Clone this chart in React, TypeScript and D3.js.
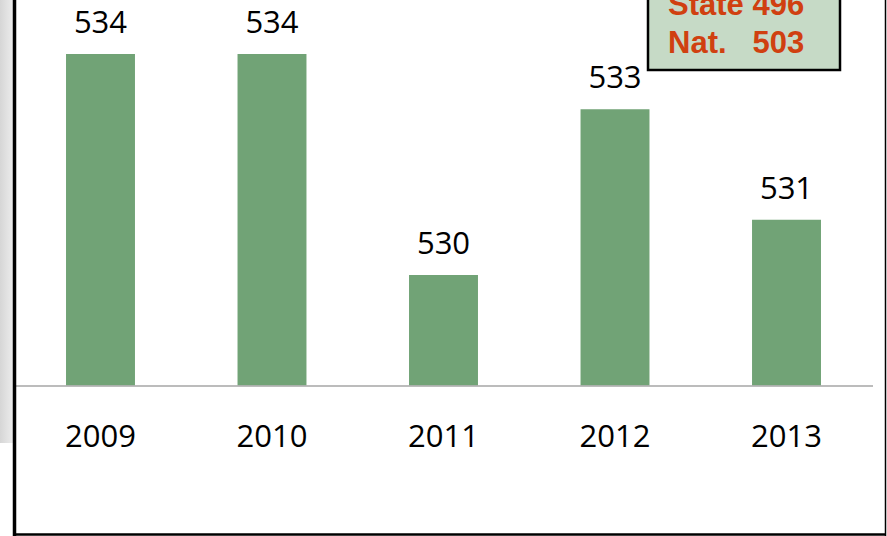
import { useEffect, useRef } from "react";
import * as d3 from "d3";

const years = ["2009", "2010", "2011", "2012", "2013"];
const scores = [534, 534, 530, 533, 531];
const legendLines = ["State 496", "Nat.   503"];

const W = 887;
const H = 536;

export default function App() {
  const ref = useRef<SVGSVGElement>(null);

  useEffect(() => {
    const svg = d3.select(ref.current);
    svg.selectAll("*").remove();

    // left grey strip
    const defs = svg.append("defs");
    const grad = defs
      .append("linearGradient")
      .attr("id", "strip")
      .attr("x1", "0")
      .attr("x2", "1")
      .attr("y1", "0")
      .attr("y2", "0");
    grad.append("stop").attr("offset", "0").attr("stop-color", "#d6d6d6");
    grad.append("stop").attr("offset", "1").attr("stop-color", "#ececec");
    svg.append("rect").attr("x", 0).attr("y", 0).attr("width", 13).attr("height", 443).attr("fill", "url(#strip)");

    const x = d3.scaleBand<string>().domain(years).range([15, 872]).paddingInner(0.598).paddingOuter(0.2975);
    const y = d3.scaleLinear().domain([528, 535]).range([385.5, -1.25]);

    // bars
    svg
      .selectAll("rect.bar")
      .data(scores)
      .enter()
      .append("rect")
      .attr("class", "bar")
      .attr("x", (_, i) => x(years[i]) as number)
      .attr("width", x.bandwidth())
      .attr("y", (d) => y(d))
      .attr("height", (d) => y(528) - y(d))
      .attr("fill", "#71a376");

    // baseline
    svg
      .append("line")
      .attr("x1", 15)
      .attr("x2", 873)
      .attr("y1", 386)
      .attr("y2", 386)
      .attr("stroke", "#a6a6a6")
      .attr("stroke-width", 1.5);

    // value labels
    svg
      .selectAll("text.val")
      .data(scores)
      .enter()
      .append("text")
      .attr("class", "val")
      .attr("x", (_, i) => (x(years[i]) as number) + x.bandwidth() / 2)
      .attr("y", (d) => y(d) - 21)
      .attr("text-anchor", "middle")
      .attr("font-family", "'Open Sans', sans-serif")
      .attr("font-size", 31)
      .attr("fill", "#000")
      .text((d) => d);

    // year labels
    svg
      .selectAll("text.year")
      .data(years)
      .enter()
      .append("text")
      .attr("class", "year")
      .attr("x", (d) => (x(d) as number) + x.bandwidth() / 2)
      .attr("y", 447)
      .attr("text-anchor", "middle")
      .attr("font-family", "'Open Sans', sans-serif")
      .attr("font-size", 31)
      .attr("fill", "#000")
      .text((d) => d);

    // state / national box
    svg
      .append("rect")
      .attr("x", 648)
      .attr("y", -10)
      .attr("width", 192)
      .attr("height", 80)
      .attr("fill", "#c6dac6")
      .attr("stroke", "#000")
      .attr("stroke-width", 2.5);
    svg
      .selectAll("text.leg")
      .data(legendLines)
      .enter()
      .append("text")
      .attr("class", "leg")
      .attr("x", 668)
      .attr("y", (_, i) => 15 + i * 38)
      .attr("font-family", "'Liberation Sans', Arial, sans-serif")
      .attr("font-weight", "bold")
      .attr("font-size", 31)
      .attr("fill", "#d04010")
      .style("white-space", "pre")
      .text((d) => d);

    // frame
    svg.append("line").attr("x1", 14.5).attr("x2", 14.5).attr("y1", 0).attr("y2", H).attr("stroke", "#000").attr("stroke-width", 3.5);
    svg.append("line").attr("x1", 14).attr("x2", 886).attr("y1", 534.5).attr("y2", 534.5).attr("stroke", "#000").attr("stroke-width", 2.5);
    svg.append("line").attr("x1", 885.5).attr("x2", 885.5).attr("y1", 0).attr("y2", H).attr("stroke", "#000").attr("stroke-width", 1.5);
  }, []);

  return (
    <svg
      ref={ref}
      width={W}
      height={H}
      style={{ position: "absolute", left: 0, top: 0, background: "#fff" }}
    />
  );
}
